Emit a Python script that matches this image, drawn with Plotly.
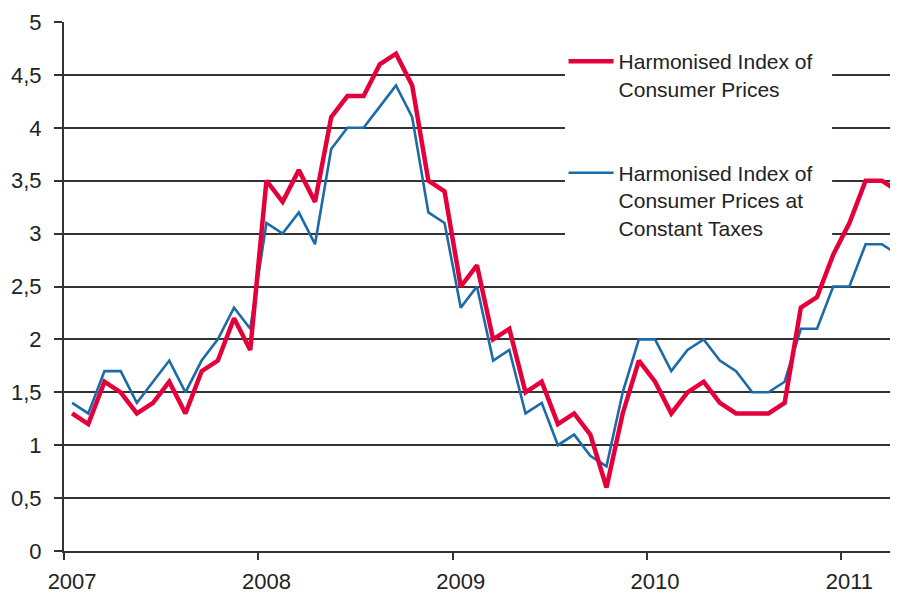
import plotly.graph_objects as go

years = ["2007", "2008", "2009", "2010", "2011"]
months = [f"{y}-{m:02d}" for y in range(2007, 2012) for m in range(1, 13)][:52]

hicp = [1.3, 1.2, 1.6, 1.5, 1.3, 1.4, 1.6, 1.3, 1.7, 1.8, 2.2, 1.9,
        3.5, 3.3, 3.6, 3.3, 4.1, 4.3, 4.3, 4.6, 4.7, 4.4, 3.5, 3.4,
        2.5, 2.7, 2.0, 2.1, 1.5, 1.6, 1.2, 1.3, 1.1, 0.6, 1.3, 1.8,
        1.6, 1.3, 1.5, 1.6, 1.4, 1.3, 1.3, 1.3, 1.4, 2.3, 2.4, 2.8,
        3.1, 3.5, 3.5, 3.4]

hicp_ct = [1.4, 1.3, 1.7, 1.7, 1.4, 1.6, 1.8, 1.5, 1.8, 2.0, 2.3, 2.1,
           3.1, 3.0, 3.2, 2.9, 3.8, 4.0, 4.0, 4.2, 4.4, 4.1, 3.2, 3.1,
           2.3, 2.5, 1.8, 1.9, 1.3, 1.4, 1.0, 1.1, 0.9, 0.8, 1.5, 2.0,
           2.0, 1.7, 1.9, 2.0, 1.8, 1.7, 1.5, 1.5, 1.6, 2.1, 2.1, 2.5,
           2.5, 2.9, 2.9, 2.8]

y_tickvals = [0, 0.5, 1, 1.5, 2, 2.5, 3, 3.5, 4, 4.5, 5]
y_ticktext = ["0", "0,5", "1", "1,5", "2", "2,5", "3", "3,5", "4", "4,5", "5"]

name_hicp = "Harmonised Index of<br>Consumer Prices"
name_ct = "Harmonised Index of<br>Consumer Prices at<br>Constant Taxes"

x = list(range(len(months)))
year_pos = [months.index(f"{y}-01") for y in years]

fig = go.Figure()
fig.add_trace(go.Scatter(x=x, y=hicp_ct, mode="lines", name=name_ct,
                         line=dict(color="#1C6BA8", width=2.6),
                         legendgroup="b", legendrank=2, customdata=months))
fig.add_trace(go.Scatter(x=x, y=hicp, mode="lines", name=name_hicp,
                         line=dict(color="#E4003A", width=4.5),
                         legendgroup="a", legendrank=1, customdata=months))

font_family = "Liberation Sans, Arial, sans-serif"

# the page body adds an 8px offset, so the figure is sized to fit the window
fig.update_layout(
    width=890, height=587,
    margin=dict(l=56, r=0, t=14, b=44),
    plot_bgcolor="white", paper_bgcolor="white",
    font=dict(family=font_family, size=22, color="#222222"),
    showlegend=True,
    legend=dict(x=0.599, y=0.964, xanchor="left", yanchor="top",
                bgcolor="rgba(0,0,0,0)", valign="top",
                tracegroupgap=54, itemwidth=45,
                font=dict(family=font_family, size=21, color="#222222")),
    shapes=[dict(type="rect", xref="paper", yref="paper",
                 x0=0.6007, x1=0.921, y0=0.578, y1=0.966,
                 fillcolor="white", line=dict(width=0), layer="above")],
)

fig.update_xaxes(
    range=[-0.5, 51], showgrid=False, zeroline=False, automargin=False,
    showline=True, linecolor="#333333", linewidth=2,
    tickvals=[year_pos[i] for i in range(len(years))], ticktext=years,
    ticks="", ticklabelstandoff=10,
    minor=dict(tickvals=[p - 0.5 for p in year_pos], ticks="outside",
               ticklen=7, tickwidth=1.5, tickcolor="#333333", showgrid=False),
)
fig.update_yaxes(
    range=[0, 5], tickvals=y_tickvals, ticktext=y_ticktext, automargin=False,
    showgrid=True, gridcolor="#333333", gridwidth=1.6,
    zeroline=False, showline=True, linecolor="#333333", linewidth=2,
    ticks="outside", ticklen=8, tickwidth=1.5, tickcolor="#333333",
    ticklabelstandoff=8,
)

fig.write_html("out.html")
